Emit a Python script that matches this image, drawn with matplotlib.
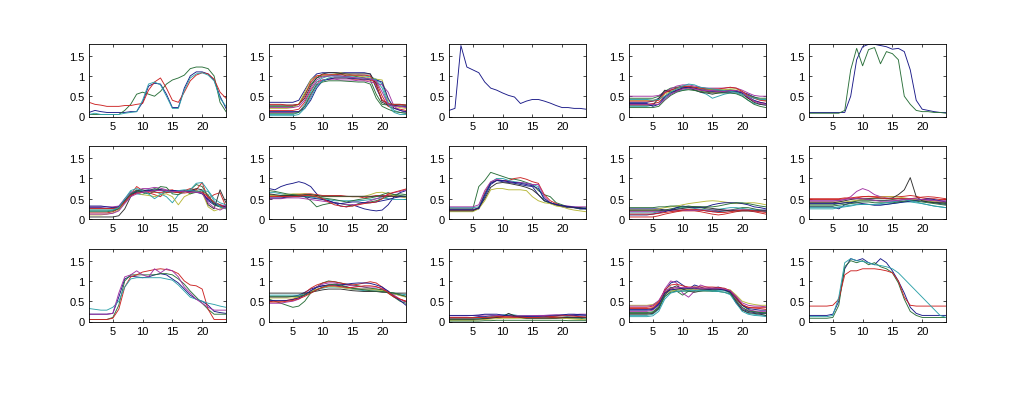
import numpy as np
import matplotlib
matplotlib.use("Agg")
import matplotlib.pyplot as plt

hours = list(range(1, 25))
x_ticks = [5, 10, 15, 20]
y_ticks = [0, 0.5, 1, 1.5]

# old MATLAB colour order: b g r c m y k (a little darker, like the jpeg)
line_colors = ['#1a1a88', '#2a703a', '#cc2424', '#2ea2aa', '#a334a3', '#b8b83a', '#303030']

p01 = [
    [0.10, 0.15, 0.12, 0.10, 0.10, 0.10, 0.10, 0.12, 0.12, 0.35, 0.75, 0.82, 0.80, 0.55, 0.22, 0.22, 0.70, 1.00, 1.10, 1.10, 1.05, 0.90, 0.50, 0.20],
    [0.05, 0.05, 0.05, 0.05, 0.05, 0.05, 0.15, 0.30, 0.55, 0.60, 0.55, 0.50, 0.62, 0.80, 0.90, 0.95, 1.02, 1.18, 1.22, 1.22, 1.18, 1.00, 0.35, 0.12],
    [0.35, 0.30, 0.28, 0.25, 0.25, 0.25, 0.27, 0.27, 0.30, 0.32, 0.65, 0.85, 0.95, 0.70, 0.40, 0.35, 0.60, 0.88, 1.02, 1.08, 1.05, 0.92, 0.60, 0.45],
    [0.05, 0.08, 0.05, 0.05, 0.05, 0.05, 0.08, 0.10, 0.12, 0.40, 0.80, 0.85, 0.78, 0.50, 0.20, 0.20, 0.65, 0.95, 1.05, 1.08, 1.02, 0.88, 0.45, 0.25],
]

p02 = [
    [0.35, 0.35, 0.35, 0.35, 0.35, 0.40, 0.65, 0.90, 1.05, 1.08, 1.08, 1.08, 1.08, 1.08, 1.08, 1.08, 1.08, 1.05, 0.70, 0.40, 0.30, 0.28, 0.25, 0.25],
    [0.25, 0.25, 0.25, 0.25, 0.25, 0.30, 0.55, 0.80, 0.95, 1.00, 1.00, 1.02, 1.05, 1.00, 1.00, 0.98, 0.95, 0.90, 0.55, 0.30, 0.28, 0.30, 0.30, 0.28],
    [0.15, 0.15, 0.15, 0.15, 0.15, 0.18, 0.35, 0.65, 0.85, 0.90, 0.92, 0.95, 0.95, 0.95, 0.92, 0.92, 0.90, 0.90, 0.85, 0.50, 0.25, 0.20, 0.18, 0.15],
    [0.05, 0.05, 0.05, 0.05, 0.05, 0.10, 0.30, 0.60, 0.85, 0.95, 1.00, 1.02, 1.00, 0.98, 1.00, 1.02, 1.00, 0.98, 0.92, 0.80, 0.35, 0.15, 0.10, 0.08],
    [0.10, 0.10, 0.10, 0.10, 0.10, 0.12, 0.25, 0.50, 0.80, 0.90, 0.92, 0.92, 0.90, 0.90, 0.90, 0.88, 0.88, 0.85, 0.82, 0.78, 0.60, 0.25, 0.15, 0.10],
    [0.20, 0.20, 0.20, 0.20, 0.22, 0.30, 0.60, 0.90, 1.00, 1.02, 1.02, 1.05, 1.08, 1.05, 1.02, 1.00, 0.98, 0.95, 0.92, 0.90, 0.40, 0.25, 0.22, 0.20],
    [0.28, 0.28, 0.28, 0.28, 0.28, 0.30, 0.45, 0.75, 0.95, 1.05, 1.08, 1.08, 1.06, 1.05, 1.05, 1.05, 1.05, 1.05, 0.80, 0.35, 0.28, 0.28, 0.28, 0.28],
    [0.12, 0.12, 0.12, 0.12, 0.12, 0.12, 0.20, 0.40, 0.70, 0.88, 0.92, 0.95, 0.95, 0.95, 0.94, 0.93, 0.92, 0.92, 0.90, 0.85, 0.45, 0.20, 0.15, 0.12],
    [0.08, 0.08, 0.08, 0.08, 0.08, 0.10, 0.25, 0.55, 0.78, 0.85, 0.88, 0.88, 0.88, 0.87, 0.86, 0.85, 0.85, 0.80, 0.45, 0.25, 0.18, 0.12, 0.10, 0.08],
    [0.30, 0.30, 0.30, 0.28, 0.28, 0.30, 0.50, 0.85, 1.00, 1.03, 1.03, 1.03, 1.03, 1.02, 1.02, 1.02, 1.02, 1.00, 0.75, 0.40, 0.32, 0.30, 0.30, 0.28],
    [0.02, 0.02, 0.02, 0.02, 0.02, 0.05, 0.20, 0.45, 0.75, 0.88, 0.95, 0.98, 0.98, 0.97, 0.96, 0.95, 0.95, 0.93, 0.90, 0.70, 0.30, 0.10, 0.05, 0.05],
    [0.22, 0.22, 0.22, 0.22, 0.22, 0.25, 0.40, 0.70, 0.90, 0.98, 1.00, 1.00, 1.00, 0.98, 0.96, 0.95, 0.95, 0.92, 0.88, 0.60, 0.30, 0.25, 0.25, 0.22],
]

p03 = [
    [0.15, 0.20, 1.75, 1.22, 1.15, 1.08, 0.85, 0.70, 0.65, 0.58, 0.52, 0.48, 0.32, 0.38, 0.42, 0.42, 0.38, 0.33, 0.27, 0.22, 0.22, 0.20, 0.20, 0.18],
]

p04 = [
    [0.35, 0.35, 0.35, 0.35, 0.38, 0.45, 0.60, 0.65, 0.70, 0.72, 0.72, 0.70, 0.68, 0.66, 0.65, 0.65, 0.64, 0.64, 0.62, 0.60, 0.55, 0.48, 0.42, 0.40],
    [0.45, 0.45, 0.45, 0.45, 0.45, 0.50, 0.62, 0.70, 0.72, 0.75, 0.75, 0.72, 0.70, 0.68, 0.66, 0.65, 0.65, 0.66, 0.64, 0.60, 0.52, 0.48, 0.45, 0.45],
    [0.30, 0.30, 0.30, 0.30, 0.32, 0.35, 0.50, 0.60, 0.65, 0.68, 0.68, 0.66, 0.65, 0.62, 0.60, 0.60, 0.62, 0.62, 0.60, 0.55, 0.45, 0.38, 0.35, 0.32],
    [0.25, 0.25, 0.25, 0.25, 0.28, 0.30, 0.45, 0.55, 0.62, 0.65, 0.68, 0.66, 0.60, 0.55, 0.45, 0.50, 0.55, 0.58, 0.58, 0.52, 0.40, 0.32, 0.30, 0.28],
    [0.50, 0.50, 0.50, 0.50, 0.50, 0.52, 0.60, 0.68, 0.75, 0.78, 0.78, 0.75, 0.72, 0.70, 0.70, 0.70, 0.70, 0.72, 0.70, 0.65, 0.58, 0.52, 0.50, 0.50],
    [0.40, 0.40, 0.40, 0.40, 0.40, 0.42, 0.55, 0.62, 0.68, 0.70, 0.70, 0.70, 0.68, 0.68, 0.66, 0.66, 0.66, 0.68, 0.68, 0.62, 0.50, 0.45, 0.42, 0.40],
    [0.28, 0.28, 0.28, 0.28, 0.28, 0.45, 0.65, 0.60, 0.62, 0.70, 0.72, 0.65, 0.60, 0.58, 0.55, 0.58, 0.60, 0.62, 0.62, 0.58, 0.45, 0.35, 0.30, 0.28],
    [0.32, 0.32, 0.32, 0.32, 0.25, 0.30, 0.48, 0.58, 0.65, 0.70, 0.72, 0.70, 0.66, 0.63, 0.62, 0.62, 0.60, 0.60, 0.62, 0.58, 0.48, 0.40, 0.35, 0.32],
    [0.22, 0.22, 0.22, 0.22, 0.22, 0.25, 0.40, 0.52, 0.60, 0.64, 0.66, 0.64, 0.62, 0.60, 0.58, 0.58, 0.58, 0.58, 0.56, 0.50, 0.40, 0.30, 0.25, 0.22],
    [0.38, 0.38, 0.38, 0.38, 0.38, 0.40, 0.58, 0.65, 0.70, 0.74, 0.74, 0.72, 0.70, 0.68, 0.68, 0.68, 0.70, 0.72, 0.70, 0.62, 0.52, 0.45, 0.40, 0.38],
    [0.42, 0.42, 0.42, 0.42, 0.40, 0.42, 0.50, 0.60, 0.68, 0.75, 0.80, 0.78, 0.72, 0.70, 0.68, 0.66, 0.64, 0.62, 0.60, 0.55, 0.50, 0.45, 0.42, 0.42],
    [0.30, 0.30, 0.30, 0.30, 0.30, 0.30, 0.42, 0.55, 0.62, 0.68, 0.70, 0.68, 0.65, 0.64, 0.64, 0.62, 0.62, 0.64, 0.64, 0.60, 0.48, 0.38, 0.32, 0.30],
]

p05 = [
    [0.10, 0.10, 0.10, 0.10, 0.10, 0.10, 0.10, 0.50, 1.40, 1.72, 1.78, 1.78, 1.75, 1.72, 1.66, 1.68, 1.60, 1.15, 0.40, 0.18, 0.15, 0.12, 0.10, 0.10],
    [0.08, 0.08, 0.08, 0.08, 0.08, 0.08, 0.15, 1.15, 1.68, 1.25, 1.65, 1.70, 1.30, 1.60, 1.55, 1.40, 0.50, 0.30, 0.15, 0.12, 0.12, 0.10, 0.10, 0.08],
]

p06 = [
    [0.28, 0.28, 0.28, 0.26, 0.26, 0.30, 0.45, 0.62, 0.68, 0.70, 0.72, 0.70, 0.70, 0.68, 0.70, 0.68, 0.68, 0.70, 0.70, 0.65, 0.45, 0.35, 0.30, 0.28],
    [0.22, 0.22, 0.22, 0.22, 0.22, 0.25, 0.40, 0.60, 0.72, 0.65, 0.70, 0.75, 0.72, 0.65, 0.70, 0.66, 0.68, 0.72, 0.85, 0.80, 0.55, 0.40, 0.35, 0.30],
    [0.15, 0.15, 0.15, 0.15, 0.18, 0.25, 0.42, 0.60, 0.80, 0.70, 0.65, 0.60, 0.55, 0.70, 0.72, 0.65, 0.70, 0.75, 0.72, 0.90, 0.50, 0.60, 0.65, 0.30],
    [0.25, 0.25, 0.25, 0.25, 0.25, 0.28, 0.45, 0.68, 0.62, 0.60, 0.70, 0.68, 0.62, 0.55, 0.40, 0.60, 0.66, 0.72, 0.88, 0.90, 0.70, 0.50, 0.40, 0.35],
    [0.30, 0.30, 0.30, 0.30, 0.30, 0.32, 0.50, 0.65, 0.70, 0.75, 0.75, 0.78, 0.76, 0.72, 0.70, 0.70, 0.70, 0.68, 0.66, 0.65, 0.50, 0.40, 0.35, 0.32],
    [0.10, 0.10, 0.10, 0.12, 0.15, 0.22, 0.40, 0.58, 0.65, 0.60, 0.58, 0.55, 0.60, 0.62, 0.55, 0.35, 0.55, 0.62, 0.70, 0.65, 0.30, 0.20, 0.25, 0.28],
    [0.05, 0.05, 0.05, 0.05, 0.05, 0.08, 0.25, 0.55, 0.70, 0.72, 0.68, 0.70, 0.72, 0.70, 0.68, 0.66, 0.68, 0.70, 0.75, 0.72, 0.35, 0.25, 0.72, 0.40],
    [0.32, 0.32, 0.32, 0.30, 0.28, 0.30, 0.45, 0.60, 0.66, 0.68, 0.70, 0.72, 0.72, 0.70, 0.70, 0.70, 0.68, 0.68, 0.66, 0.62, 0.48, 0.38, 0.32, 0.30],
    [0.18, 0.18, 0.18, 0.18, 0.20, 0.26, 0.44, 0.62, 0.70, 0.65, 0.62, 0.68, 0.80, 0.78, 0.62, 0.60, 0.70, 0.62, 0.66, 0.70, 0.60, 0.35, 0.30, 0.28],
    [0.26, 0.26, 0.26, 0.26, 0.26, 0.28, 0.42, 0.58, 0.64, 0.66, 0.68, 0.66, 0.65, 0.65, 0.66, 0.65, 0.64, 0.66, 0.68, 0.66, 0.55, 0.42, 0.35, 0.25],
    [0.20, 0.20, 0.20, 0.20, 0.22, 0.28, 0.50, 0.70, 0.75, 0.70, 0.62, 0.50, 0.60, 0.68, 0.66, 0.70, 0.72, 0.70, 0.68, 0.70, 0.68, 0.45, 0.30, 0.25],
    [0.12, 0.12, 0.12, 0.12, 0.14, 0.20, 0.38, 0.55, 0.62, 0.66, 0.68, 0.70, 0.70, 0.70, 0.68, 0.68, 0.68, 0.66, 0.66, 0.64, 0.40, 0.28, 0.22, 0.30],
]

p07 = [
    [0.75, 0.72, 0.80, 0.85, 0.88, 0.92, 0.88, 0.80, 0.62, 0.48, 0.45, 0.40, 0.32, 0.30, 0.35, 0.30, 0.25, 0.22, 0.20, 0.22, 0.35, 0.55, 0.65, 0.70],
    [0.60, 0.58, 0.56, 0.58, 0.60, 0.60, 0.55, 0.45, 0.30, 0.35, 0.38, 0.40, 0.38, 0.35, 0.32, 0.38, 0.40, 0.42, 0.45, 0.50, 0.55, 0.60, 0.62, 0.60],
    [0.55, 0.55, 0.55, 0.56, 0.58, 0.60, 0.62, 0.62, 0.60, 0.58, 0.58, 0.58, 0.58, 0.56, 0.55, 0.55, 0.52, 0.55, 0.58, 0.58, 0.58, 0.55, 0.55, 0.55],
    [0.65, 0.65, 0.62, 0.60, 0.58, 0.56, 0.55, 0.55, 0.52, 0.50, 0.48, 0.45, 0.45, 0.45, 0.45, 0.45, 0.46, 0.48, 0.50, 0.52, 0.50, 0.48, 0.48, 0.48],
    [0.50, 0.50, 0.50, 0.52, 0.52, 0.52, 0.50, 0.48, 0.46, 0.44, 0.42, 0.40, 0.38, 0.36, 0.35, 0.36, 0.40, 0.45, 0.50, 0.55, 0.60, 0.65, 0.68, 0.72],
    [0.58, 0.58, 0.58, 0.60, 0.62, 0.62, 0.62, 0.60, 0.58, 0.55, 0.55, 0.55, 0.55, 0.55, 0.55, 0.55, 0.56, 0.60, 0.65, 0.66, 0.62, 0.58, 0.55, 0.52],
    [0.62, 0.60, 0.58, 0.58, 0.58, 0.58, 0.60, 0.60, 0.58, 0.56, 0.56, 0.56, 0.56, 0.56, 0.56, 0.56, 0.56, 0.56, 0.56, 0.56, 0.56, 0.56, 0.56, 0.56],
    [0.52, 0.52, 0.52, 0.54, 0.55, 0.55, 0.55, 0.52, 0.50, 0.48, 0.45, 0.40, 0.38, 0.40, 0.42, 0.42, 0.40, 0.40, 0.42, 0.45, 0.48, 0.52, 0.55, 0.55],
    [0.70, 0.68, 0.65, 0.62, 0.60, 0.58, 0.57, 0.56, 0.55, 0.52, 0.50, 0.48, 0.45, 0.42, 0.45, 0.48, 0.50, 0.52, 0.55, 0.60, 0.65, 0.60, 0.58, 0.56],
    [0.56, 0.56, 0.55, 0.55, 0.55, 0.56, 0.58, 0.58, 0.55, 0.50, 0.42, 0.35, 0.32, 0.30, 0.32, 0.35, 0.38, 0.40, 0.42, 0.50, 0.62, 0.66, 0.70, 0.74],
]

p08 = [
    [0.22, 0.22, 0.22, 0.22, 0.22, 0.25, 0.55, 0.85, 0.95, 0.92, 0.90, 0.88, 0.85, 0.82, 0.80, 0.60, 0.45, 0.40, 0.35, 0.30, 0.28, 0.28, 0.25, 0.25],
    [0.25, 0.25, 0.25, 0.25, 0.25, 0.80, 0.95, 1.15, 1.10, 1.05, 1.00, 0.98, 0.95, 0.90, 0.85, 0.70, 0.60, 0.55, 0.40, 0.35, 0.30, 0.28, 0.25, 0.25],
    [0.22, 0.22, 0.22, 0.22, 0.22, 0.28, 0.65, 0.90, 0.95, 0.95, 0.95, 1.00, 1.02, 0.98, 0.92, 0.88, 0.60, 0.45, 0.38, 0.32, 0.30, 0.28, 0.28, 0.28],
    [0.28, 0.28, 0.28, 0.28, 0.28, 0.30, 0.60, 0.90, 1.00, 1.00, 0.95, 0.92, 0.90, 0.88, 0.85, 0.80, 0.45, 0.38, 0.35, 0.32, 0.30, 0.30, 0.28, 0.28],
    [0.30, 0.30, 0.30, 0.30, 0.30, 0.35, 0.70, 0.92, 0.98, 0.95, 0.92, 0.90, 0.90, 0.88, 0.85, 0.85, 0.55, 0.40, 0.35, 0.32, 0.32, 0.30, 0.30, 0.30],
    [0.18, 0.18, 0.18, 0.18, 0.18, 0.25, 0.45, 0.72, 0.75, 0.75, 0.72, 0.72, 0.72, 0.70, 0.55, 0.45, 0.40, 0.38, 0.32, 0.30, 0.25, 0.22, 0.20, 0.18],
    [0.20, 0.20, 0.20, 0.20, 0.20, 0.28, 0.50, 0.78, 0.88, 0.90, 0.88, 0.85, 0.82, 0.78, 0.72, 0.60, 0.45, 0.40, 0.35, 0.32, 0.30, 0.28, 0.28, 0.25],
    [0.24, 0.24, 0.24, 0.24, 0.24, 0.26, 0.60, 0.88, 0.95, 0.95, 0.92, 0.90, 0.88, 0.85, 0.82, 0.75, 0.50, 0.40, 0.36, 0.33, 0.31, 0.29, 0.26, 0.26],
]

p09 = [
    [0.25, 0.25, 0.25, 0.25, 0.25, 0.25, 0.22, 0.20, 0.20, 0.22, 0.22, 0.22, 0.22, 0.20, 0.18, 0.18, 0.20, 0.20, 0.22, 0.22, 0.22, 0.22, 0.22, 0.22],
    [0.20, 0.20, 0.20, 0.20, 0.20, 0.20, 0.22, 0.25, 0.28, 0.30, 0.32, 0.30, 0.28, 0.25, 0.22, 0.20, 0.20, 0.22, 0.25, 0.28, 0.28, 0.25, 0.22, 0.20],
    [0.05, 0.05, 0.05, 0.05, 0.05, 0.08, 0.12, 0.15, 0.18, 0.20, 0.20, 0.20, 0.18, 0.15, 0.12, 0.10, 0.12, 0.15, 0.18, 0.20, 0.20, 0.18, 0.15, 0.12],
    [0.15, 0.15, 0.15, 0.15, 0.15, 0.18, 0.20, 0.22, 0.25, 0.28, 0.28, 0.26, 0.24, 0.22, 0.22, 0.24, 0.26, 0.28, 0.28, 0.26, 0.24, 0.22, 0.20, 0.18],
    [0.18, 0.18, 0.18, 0.18, 0.18, 0.18, 0.20, 0.22, 0.22, 0.22, 0.22, 0.22, 0.22, 0.22, 0.22, 0.22, 0.22, 0.22, 0.22, 0.22, 0.22, 0.20, 0.20, 0.20],
    [0.22, 0.22, 0.22, 0.22, 0.22, 0.25, 0.28, 0.30, 0.32, 0.35, 0.38, 0.40, 0.42, 0.44, 0.45, 0.44, 0.42, 0.40, 0.38, 0.38, 0.40, 0.40, 0.38, 0.35],
    [0.22, 0.22, 0.22, 0.22, 0.22, 0.22, 0.22, 0.22, 0.24, 0.26, 0.28, 0.30, 0.30, 0.28, 0.26, 0.24, 0.22, 0.20, 0.20, 0.20, 0.20, 0.20, 0.20, 0.20],
    [0.10, 0.10, 0.10, 0.10, 0.12, 0.15, 0.18, 0.22, 0.28, 0.32, 0.30, 0.28, 0.28, 0.30, 0.35, 0.38, 0.40, 0.40, 0.40, 0.38, 0.35, 0.30, 0.28, 0.25],
    [0.28, 0.28, 0.28, 0.28, 0.28, 0.30, 0.30, 0.32, 0.32, 0.30, 0.30, 0.30, 0.30, 0.30, 0.30, 0.32, 0.35, 0.38, 0.40, 0.40, 0.38, 0.35, 0.32, 0.30],
    [0.12, 0.12, 0.12, 0.12, 0.12, 0.14, 0.16, 0.18, 0.20, 0.22, 0.24, 0.24, 0.22, 0.20, 0.18, 0.16, 0.16, 0.18, 0.20, 0.22, 0.22, 0.20, 0.18, 0.16],
]

p10 = [
    [0.30, 0.30, 0.30, 0.30, 0.30, 0.25, 0.35, 0.40, 0.45, 0.48, 0.48, 0.46, 0.45, 0.45, 0.44, 0.44, 0.44, 0.45, 0.45, 0.44, 0.42, 0.40, 0.38, 0.36],
    [0.35, 0.35, 0.35, 0.35, 0.35, 0.38, 0.40, 0.42, 0.44, 0.45, 0.45, 0.45, 0.45, 0.46, 0.48, 0.50, 0.50, 0.50, 0.48, 0.46, 0.44, 0.42, 0.40, 0.38],
    [0.48, 0.48, 0.48, 0.48, 0.48, 0.48, 0.50, 0.50, 0.52, 0.55, 0.56, 0.55, 0.55, 0.55, 0.55, 0.55, 0.56, 0.58, 0.56, 0.52, 0.50, 0.50, 0.48, 0.48],
    [0.25, 0.25, 0.25, 0.25, 0.25, 0.28, 0.30, 0.32, 0.35, 0.36, 0.36, 0.35, 0.35, 0.36, 0.38, 0.40, 0.42, 0.42, 0.40, 0.38, 0.35, 0.32, 0.30, 0.28],
    [0.45, 0.45, 0.45, 0.45, 0.45, 0.45, 0.48, 0.55, 0.68, 0.75, 0.70, 0.60, 0.55, 0.52, 0.50, 0.50, 0.48, 0.48, 0.48, 0.48, 0.48, 0.46, 0.45, 0.45],
    [0.42, 0.42, 0.42, 0.42, 0.42, 0.42, 0.42, 0.44, 0.46, 0.48, 0.50, 0.52, 0.54, 0.55, 0.55, 0.54, 0.52, 0.50, 0.48, 0.46, 0.44, 0.44, 0.42, 0.42],
    [0.40, 0.40, 0.40, 0.40, 0.40, 0.42, 0.45, 0.48, 0.50, 0.50, 0.50, 0.50, 0.50, 0.50, 0.52, 0.60, 0.72, 1.02, 0.55, 0.45, 0.42, 0.40, 0.40, 0.40],
    [0.38, 0.38, 0.38, 0.38, 0.38, 0.38, 0.40, 0.40, 0.40, 0.38, 0.36, 0.34, 0.34, 0.36, 0.38, 0.40, 0.42, 0.44, 0.46, 0.48, 0.50, 0.48, 0.45, 0.42],
    [0.32, 0.32, 0.32, 0.32, 0.32, 0.34, 0.36, 0.38, 0.40, 0.42, 0.42, 0.40, 0.40, 0.40, 0.40, 0.42, 0.44, 0.46, 0.44, 0.42, 0.40, 0.38, 0.36, 0.34],
    [0.50, 0.50, 0.50, 0.50, 0.50, 0.50, 0.52, 0.52, 0.54, 0.55, 0.55, 0.54, 0.52, 0.50, 0.50, 0.50, 0.50, 0.50, 0.52, 0.54, 0.55, 0.54, 0.52, 0.50],
    [0.28, 0.28, 0.28, 0.28, 0.28, 0.30, 0.32, 0.34, 0.36, 0.36, 0.36, 0.36, 0.38, 0.40, 0.42, 0.45, 0.48, 0.45, 0.42, 0.38, 0.35, 0.32, 0.30, 0.28],
    [0.44, 0.44, 0.44, 0.44, 0.44, 0.46, 0.48, 0.50, 0.50, 0.50, 0.48, 0.46, 0.44, 0.44, 0.45, 0.46, 0.48, 0.50, 0.50, 0.48, 0.46, 0.45, 0.44, 0.44],
]

p11 = [
    [0.18, 0.18, 0.18, 0.18, 0.20, 0.60, 1.05, 1.12, 1.10, 1.08, 1.10, 1.15, 1.18, 1.15, 1.05, 0.95, 0.80, 0.65, 0.55, 0.50, 0.40, 0.25, 0.22, 0.20],
    [0.05, 0.05, 0.05, 0.05, 0.10, 0.40, 1.00, 1.15, 1.15, 1.15, 1.15, 1.15, 1.18, 1.18, 1.15, 1.05, 0.92, 0.75, 0.60, 0.45, 0.30, 0.18, 0.18, 0.18],
    [0.05, 0.05, 0.05, 0.05, 0.08, 0.30, 0.85, 1.10, 1.15, 1.22, 1.25, 1.28, 1.30, 1.28, 1.25, 1.18, 1.00, 0.90, 0.88, 0.80, 0.30, 0.05, 0.05, 0.05],
    [0.32, 0.30, 0.28, 0.28, 0.35, 0.50, 0.85, 1.05, 1.08, 1.08, 1.08, 1.08, 1.08, 1.05, 1.02, 0.90, 0.75, 0.60, 0.55, 0.50, 0.45, 0.42, 0.38, 0.35],
    [0.18, 0.18, 0.18, 0.18, 0.20, 0.70, 1.10, 1.15, 1.25, 1.15, 1.10, 1.30, 1.20, 1.30, 1.25, 1.10, 0.85, 0.70, 0.55, 0.45, 0.35, 0.28, 0.28, 0.28],
]

p12 = [
    [0.60, 0.60, 0.60, 0.60, 0.62, 0.65, 0.72, 0.80, 0.85, 0.88, 0.90, 0.90, 0.88, 0.85, 0.82, 0.80, 0.80, 0.80, 0.80, 0.78, 0.72, 0.68, 0.65, 0.62],
    [0.55, 0.50, 0.45, 0.40, 0.35, 0.38, 0.50, 0.70, 0.85, 0.95, 1.00, 0.98, 0.95, 0.92, 0.90, 0.88, 0.85, 0.82, 0.80, 0.78, 0.70, 0.60, 0.50, 0.45],
    [0.50, 0.50, 0.50, 0.52, 0.55, 0.60, 0.70, 0.82, 0.90, 0.95, 0.98, 0.98, 0.95, 0.92, 0.90, 0.92, 0.95, 0.98, 0.95, 0.85, 0.70, 0.60, 0.55, 0.50],
    [0.65, 0.65, 0.65, 0.65, 0.65, 0.65, 0.68, 0.72, 0.78, 0.82, 0.85, 0.85, 0.85, 0.82, 0.80, 0.78, 0.76, 0.75, 0.75, 0.74, 0.72, 0.70, 0.68, 0.66],
    [0.45, 0.45, 0.45, 0.48, 0.50, 0.55, 0.65, 0.75, 0.85, 0.92, 0.95, 0.95, 0.92, 0.90, 0.88, 0.86, 0.85, 0.85, 0.85, 0.82, 0.75, 0.65, 0.55, 0.48],
    [0.58, 0.58, 0.58, 0.58, 0.58, 0.60, 0.66, 0.74, 0.80, 0.84, 0.86, 0.86, 0.84, 0.82, 0.80, 0.80, 0.80, 0.80, 0.78, 0.76, 0.72, 0.68, 0.64, 0.60],
    [0.70, 0.70, 0.70, 0.70, 0.70, 0.70, 0.70, 0.72, 0.75, 0.78, 0.80, 0.80, 0.80, 0.78, 0.76, 0.75, 0.74, 0.74, 0.74, 0.72, 0.72, 0.70, 0.70, 0.70],
    [0.52, 0.52, 0.52, 0.52, 0.54, 0.58, 0.66, 0.76, 0.84, 0.88, 0.90, 0.90, 0.90, 0.92, 0.94, 0.95, 0.95, 0.94, 0.90, 0.85, 0.75, 0.62, 0.52, 0.40],
    [0.62, 0.62, 0.62, 0.62, 0.62, 0.62, 0.65, 0.70, 0.78, 0.85, 0.90, 0.92, 0.90, 0.86, 0.82, 0.80, 0.78, 0.76, 0.75, 0.74, 0.72, 0.70, 0.66, 0.62],
    [0.48, 0.48, 0.48, 0.50, 0.52, 0.56, 0.62, 0.70, 0.78, 0.84, 0.88, 0.88, 0.86, 0.84, 0.84, 0.86, 0.88, 0.88, 0.86, 0.80, 0.72, 0.62, 0.55, 0.50],
]

p13 = [
    [0.10, 0.10, 0.10, 0.10, 0.10, 0.12, 0.12, 0.14, 0.15, 0.15, 0.15, 0.15, 0.14, 0.14, 0.14, 0.14, 0.15, 0.15, 0.16, 0.16, 0.15, 0.15, 0.14, 0.14],
    [0.05, 0.05, 0.05, 0.05, 0.05, 0.06, 0.08, 0.10, 0.12, 0.14, 0.15, 0.14, 0.12, 0.10, 0.10, 0.10, 0.10, 0.10, 0.10, 0.10, 0.08, 0.08, 0.08, 0.06],
    [0.12, 0.12, 0.12, 0.12, 0.12, 0.12, 0.12, 0.12, 0.12, 0.12, 0.12, 0.12, 0.12, 0.12, 0.12, 0.12, 0.12, 0.12, 0.12, 0.12, 0.12, 0.12, 0.12, 0.12],
    [0.08, 0.08, 0.08, 0.08, 0.08, 0.08, 0.10, 0.12, 0.14, 0.16, 0.18, 0.16, 0.14, 0.12, 0.10, 0.10, 0.10, 0.12, 0.14, 0.14, 0.12, 0.10, 0.10, 0.08],
    [0.14, 0.14, 0.14, 0.14, 0.15, 0.15, 0.16, 0.16, 0.15, 0.14, 0.14, 0.14, 0.14, 0.14, 0.14, 0.15, 0.15, 0.16, 0.16, 0.16, 0.16, 0.17, 0.18, 0.18],
    [0.03, 0.03, 0.03, 0.03, 0.03, 0.04, 0.05, 0.06, 0.07, 0.08, 0.08, 0.08, 0.08, 0.07, 0.07, 0.07, 0.07, 0.07, 0.08, 0.08, 0.07, 0.06, 0.05, 0.04],
    [0.06, 0.06, 0.06, 0.06, 0.06, 0.06, 0.07, 0.08, 0.10, 0.12, 0.20, 0.14, 0.10, 0.08, 0.08, 0.08, 0.08, 0.08, 0.08, 0.09, 0.10, 0.10, 0.10, 0.10],
    [0.15, 0.15, 0.15, 0.15, 0.15, 0.16, 0.18, 0.18, 0.18, 0.16, 0.14, 0.12, 0.12, 0.12, 0.12, 0.12, 0.12, 0.13, 0.14, 0.16, 0.18, 0.18, 0.17, 0.16],
    [0.01, 0.01, 0.01, 0.01, 0.01, 0.01, 0.02, 0.02, 0.03, 0.03, 0.03, 0.03, 0.03, 0.03, 0.03, 0.03, 0.03, 0.03, 0.03, 0.03, 0.02, 0.02, 0.02, 0.02],
    [0.09, 0.09, 0.09, 0.09, 0.09, 0.10, 0.10, 0.11, 0.12, 0.12, 0.12, 0.11, 0.11, 0.10, 0.10, 0.10, 0.11, 0.12, 0.13, 0.14, 0.14, 0.13, 0.12, 0.11],
]

p14 = [
    [0.30, 0.30, 0.30, 0.30, 0.32, 0.45, 0.75, 0.95, 1.00, 0.90, 0.80, 0.90, 0.85, 0.80, 0.82, 0.85, 0.80, 0.70, 0.45, 0.30, 0.25, 0.22, 0.20, 0.20],
    [0.20, 0.20, 0.20, 0.20, 0.22, 0.35, 0.70, 0.85, 0.75, 0.65, 0.75, 0.85, 0.80, 0.78, 0.75, 0.78, 0.80, 0.75, 0.60, 0.40, 0.30, 0.25, 0.22, 0.20],
    [0.35, 0.35, 0.35, 0.35, 0.38, 0.50, 0.72, 0.80, 0.80, 0.80, 0.80, 0.80, 0.80, 0.80, 0.80, 0.80, 0.78, 0.72, 0.55, 0.40, 0.35, 0.35, 0.35, 0.35],
    [0.15, 0.15, 0.15, 0.15, 0.18, 0.30, 0.60, 0.75, 0.78, 0.78, 0.78, 0.78, 0.78, 0.76, 0.76, 0.76, 0.76, 0.70, 0.50, 0.30, 0.20, 0.18, 0.16, 0.15],
    [0.25, 0.25, 0.25, 0.25, 0.28, 0.40, 0.80, 1.00, 0.95, 0.70, 0.60, 0.75, 0.90, 0.85, 0.82, 0.80, 0.82, 0.75, 0.50, 0.32, 0.28, 0.26, 0.25, 0.25],
    [0.40, 0.40, 0.40, 0.40, 0.42, 0.50, 0.68, 0.75, 0.78, 0.80, 0.80, 0.80, 0.80, 0.80, 0.80, 0.80, 0.80, 0.78, 0.65, 0.50, 0.45, 0.42, 0.40, 0.40],
    [0.18, 0.18, 0.18, 0.18, 0.20, 0.32, 0.65, 0.82, 0.88, 0.80, 0.75, 0.72, 0.75, 0.78, 0.80, 0.80, 0.78, 0.72, 0.48, 0.28, 0.22, 0.20, 0.18, 0.15],
    [0.28, 0.28, 0.28, 0.28, 0.30, 0.42, 0.70, 0.78, 0.80, 0.82, 0.82, 0.82, 0.80, 0.80, 0.80, 0.80, 0.78, 0.74, 0.58, 0.40, 0.32, 0.30, 0.28, 0.28],
    [0.22, 0.22, 0.22, 0.22, 0.24, 0.36, 0.62, 0.72, 0.75, 0.75, 0.75, 0.75, 0.75, 0.75, 0.75, 0.74, 0.72, 0.68, 0.52, 0.35, 0.26, 0.24, 0.22, 0.22],
    [0.32, 0.32, 0.32, 0.32, 0.34, 0.48, 0.78, 0.90, 0.92, 0.88, 0.85, 0.85, 0.85, 0.85, 0.85, 0.84, 0.82, 0.76, 0.60, 0.42, 0.35, 0.33, 0.32, 0.30],
    [0.12, 0.12, 0.12, 0.12, 0.14, 0.25, 0.55, 0.70, 0.74, 0.75, 0.76, 0.76, 0.76, 0.76, 0.75, 0.74, 0.72, 0.66, 0.45, 0.25, 0.18, 0.15, 0.14, 0.12],
    [0.38, 0.38, 0.38, 0.38, 0.40, 0.52, 0.76, 0.82, 0.84, 0.84, 0.84, 0.83, 0.82, 0.82, 0.82, 0.82, 0.80, 0.76, 0.62, 0.46, 0.40, 0.38, 0.38, 0.36],
]

p15 = [
    [0.15, 0.15, 0.15, 0.15, 0.18, 0.50, 1.30, 1.55, 1.50, 1.55, 1.45, 1.40, 1.55, 1.45, 1.25, 1.00, 0.70, 0.35, 0.20, 0.15, 0.15, 0.15, 0.15, 0.15],
    [0.08, 0.08, 0.08, 0.08, 0.10, 0.40, 1.35, 1.50, 1.45, 1.50, 1.40, 1.45, 1.35, 1.30, 1.20, 0.95, 0.55, 0.25, 0.15, 0.10, 0.10, 0.10, 0.10, 0.10],
    [0.38, 0.38, 0.38, 0.38, 0.40, 0.55, 1.15, 1.25, 1.25, 1.30, 1.30, 1.30, 1.28, 1.25, 1.20, 1.00, 0.60, 0.40, 0.38, 0.38, 0.38, 0.38, 0.38, 0.38],
    [0.12, 0.12, 0.12, 0.12, 0.15, 0.60, 1.45, 1.55, 1.50, 1.48, 1.45, 1.40, 1.38, 1.35, 1.30, 1.20, 1.05, 0.90, 0.75, 0.60, 0.45, 0.30, 0.15, 0.10],
]

panels = [p01, p02, p03, p04, p05,
          p06, p07, p08, p09, p10,
          p11, p12, p13, p14, p15]

plt.rcParams['font.family'] = ['Liberation Sans', 'DejaVu Sans']

fig = plt.figure(figsize=(10.24, 4.06), dpi=100)
fig.patch.set_facecolor('white')

W, H = 1024.0, 406.0
for idx, panel in enumerate(panels):
    r, c = divmod(idx, 5)
    left = (89 + 180 * c) / W
    bottom = 1 - (117.5 + 102.5 * r) / H
    ax = fig.add_axes([left, bottom, 137 / W, 73 / H])
    for k, series in enumerate(panel):
        ax.plot(hours, series, color=line_colors[k % len(line_colors)], lw=0.65)
    ax.set_xlim(1, 24)
    ax.set_ylim(0, 1.8)
    ax.set_xticks(x_ticks)
    ax.set_yticks(y_ticks)
    ax.set_yticklabels(['0', '0.5', '1', '1.5'])
    ax.tick_params(direction='in', length=2.5, width=0.5, labelsize=8,
                   top=True, right=True, pad=3)
    for s in ax.spines.values():
        s.set_linewidth(0.6)

fig.savefig('out.png', dpi=100)
